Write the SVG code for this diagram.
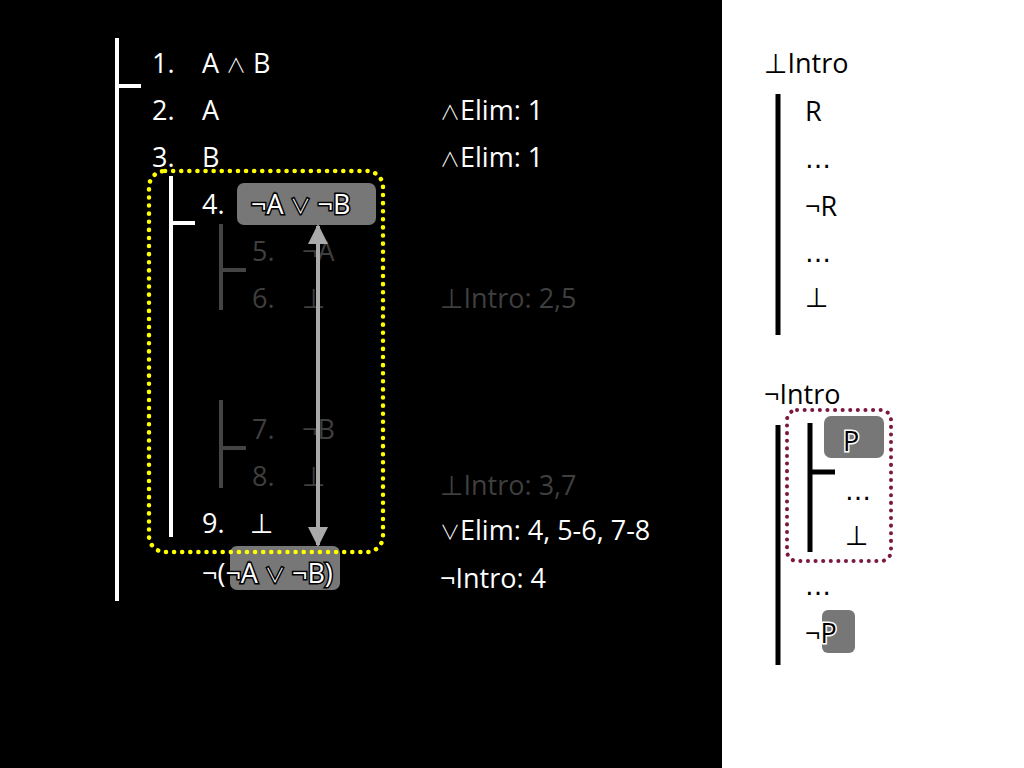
<svg xmlns="http://www.w3.org/2000/svg" width="1024" height="768" viewBox="0 0 1024 768">
<defs>
<style>
text{font-family:"Open Sans","DejaVu Sans",sans-serif;font-size:27px}
.op{font-family:"Noto Sans CJK JP","DejaVu Sans",sans-serif;font-weight:300;font-size:20px}
.el{font-family:"DejaVu Sans",sans-serif;font-size:26px}
.w{fill:#fff}
.g{fill:#3f3f3f}
.k{fill:#000}
.wl{stroke:#fff;stroke-width:4;fill:none}
.gl{stroke:#444;stroke-width:4;fill:none}
.kl{stroke:#000;stroke-width:5;fill:none}
.box{fill:#777}
.hw{fill:#fff;stroke:#000;stroke-width:3;paint-order:stroke}
.hk{fill:#000;stroke:#fff;stroke-width:3;paint-order:stroke}
</style>
<marker id="ah" viewBox="0 0 10 10" refX="9" refY="5" markerWidth="5" markerHeight="5" orient="auto-start-reverse" markerUnits="strokeWidth">
<path d="M0,0 L10,5 L0,10 z" fill="#aaa"/>
</marker>
</defs>
<rect x="0" y="0" width="1024" height="768" fill="#000"/>
<rect x="722" y="0" width="302" height="768" fill="#fff"/>

<g id="main-proof">
<path class="wl" d="M117,38 V601 M117,86 H141"/>
<text class="w" x="152" y="73">1.</text><text class="w" x="202" y="73">A <tspan class="op">∧</tspan> B</text>
<text class="w" x="152" y="120">2.</text><text class="w" x="202" y="120">A</text>
<text class="w" x="152" y="167">3.</text><text class="w" x="202" y="167">B</text>
<text class="w" x="440" y="120"><tspan class="op">∧</tspan>Elim: 1</text>
<text class="w" x="440" y="167"><tspan class="op">∧</tspan>Elim: 1</text>
</g>

<g id="subproof-4-9">
<path class="wl" d="M171,176 V537 M171,223 H195"/>
<text class="w" x="202" y="214">4.</text>
<rect class="box" x="237" y="183" width="139" height="42" rx="7"/>
<text class="hw" x="251" y="214">¬A <tspan class="op">∨</tspan> ¬B</text>
<text class="w" x="202" y="533">9.</text><text class="w" x="250" y="533">⊥</text>
<text class="w" x="440" y="540"><tspan class="op">∨</tspan>Elim: 4, 5-6, 7-8</text>
</g>

<g id="subproof-5-6">
<path class="gl" d="M221,224 V310 M221,270 H246"/>
<text class="g" x="252" y="261">5.</text><text class="g" x="302" y="261">¬A</text>
<text class="g" x="252" y="308">6.</text><text class="g" x="302" y="308">⊥</text>
<text class="g" x="440" y="308">⊥Intro: 2,5</text>
</g>

<g id="subproof-7-8">
<path class="gl" d="M221,400 V488 M221,448 H246"/>
<text class="g" x="252" y="439">7.</text><text class="g" x="302" y="439">¬B</text>
<text class="g" x="252" y="486">8.</text><text class="g" x="302" y="486">⊥</text>
<text class="g" x="440" y="495">⊥Intro: 3,7</text>
</g>

<g id="conclusion">
<rect class="box" x="230" y="546" width="110" height="44" rx="7"/>
<text class="hw" x="202" y="583">¬(¬A <tspan class="op">∨</tspan> ¬B)</text>
<text class="w" x="440" y="588">¬Intro: 4</text>
</g>

<g id="highlight">
<rect x="149" y="171" width="234" height="381" rx="16" fill="none" stroke="#ff0" stroke-width="4.5" stroke-dasharray="0.1 8" stroke-linecap="round"/>
</g>

<g id="connectors">
<line x1="318" y1="226" x2="318" y2="545" stroke="#aaa" stroke-width="4" marker-start="url(#ah)" marker-end="url(#ah)"/>
</g>

<g id="bot-intro-rule">
<text class="k" x="764" y="73">⊥Intro</text>
<path class="kl" d="M778,94 V335"/>
<text class="k" x="805" y="121">R</text>
<text class="k el" x="805" y="168">…</text>
<text class="k" x="805" y="216">¬R</text>
<text class="k el" x="805" y="262">…</text>
<text class="k" x="805" y="307">⊥</text>
</g>

<g id="neg-intro-rule">
<text class="k" x="764" y="404">¬Intro</text>
<path class="kl" d="M778,425 V665"/>
<path class="kl" d="M810,423 V552 M810,472 H835"/>
<rect class="box" x="824" y="416" width="60" height="42" rx="7"/>
<text class="hk" x="843" y="451">P</text>
<text class="k el" x="845" y="500">…</text>
<text class="k" x="845" y="545">⊥</text>
<rect x="787" y="410" width="104" height="151" rx="10" fill="none" stroke="#7a1840" stroke-width="4" stroke-dasharray="0.1 7.5" stroke-linecap="round"/>
<text class="k el" x="805" y="595">…</text>
<rect class="box" x="822" y="610" width="33" height="43" rx="6"/>
<text class="hk" x="805" y="643">¬P</text>
</g>
</svg>
